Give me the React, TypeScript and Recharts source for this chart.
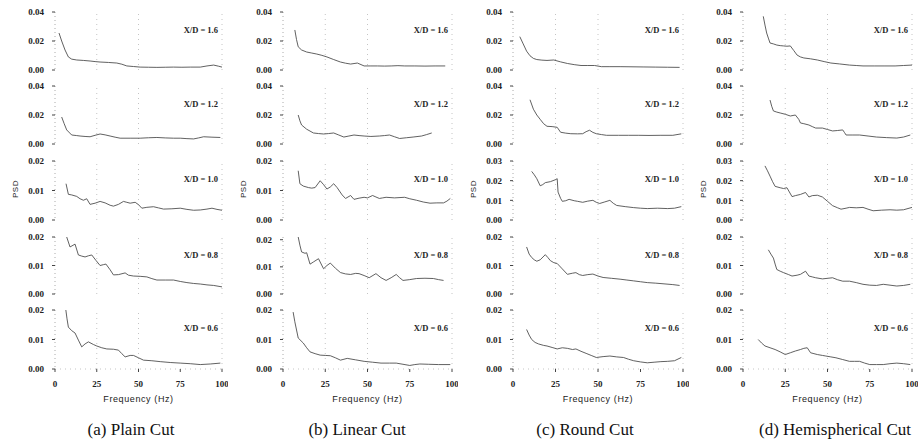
import React from 'react';
import { LineChart, Line, XAxis, YAxis, ReferenceLine } from 'recharts';

type Pt = [number, number];

// (a) Plain cut  [frequency Hz, PSD]
const plain16: Pt[] = [[2.4, 0.0255], [4, 0.02], [6, 0.0138], [8, 0.009], [10, 0.0075], [13, 0.0069], [17, 0.0066], [21, 0.0062], [24, 0.0058], [27, 0.0055], [32, 0.0052], [37, 0.0048], [40, 0.004], [43, 0.0028], [47, 0.0024], [51, 0.002], [56, 0.0019], [61, 0.0018], [66, 0.0019], [71, 0.002], [76, 0.0019], [81, 0.002], [87, 0.002], [91, 0.0028], [95, 0.0034], [98, 0.0026], [100, 0.002]];
const plain12: Pt[] = [[4, 0.0186], [5.5, 0.014], [7, 0.0097], [10, 0.0062], [13, 0.0058], [15, 0.0055], [18, 0.0052], [21, 0.005], [24, 0.006], [27, 0.0069], [30, 0.0063], [33, 0.0055], [36, 0.0047], [39, 0.004], [45, 0.004], [51, 0.004], [56, 0.0043], [61, 0.0045], [66, 0.0042], [71, 0.004], [75, 0.004], [79, 0.0037], [83, 0.0035], [86, 0.0042], [89, 0.005], [94, 0.0047], [99, 0.0045]];
const plain10: Pt[] = [[6.6, 0.0123], [8, 0.0087], [10, 0.0085], [13, 0.008], [15, 0.0072], [17, 0.0067], [19, 0.0072], [21, 0.0053], [24, 0.0057], [27, 0.0063], [30, 0.0058], [33, 0.005], [35, 0.0047], [38, 0.0053], [41, 0.0063], [43, 0.006], [45, 0.0057], [48, 0.006], [50, 0.0052], [52, 0.004], [55, 0.0043], [59, 0.0045], [62, 0.0041], [65, 0.0037], [70, 0.0038], [75, 0.004], [79, 0.0036], [83, 0.0033], [87, 0.0034], [91, 0.0037], [94, 0.004], [97, 0.0036], [100, 0.0033]];
const plain08: Pt[] = [[7, 0.02], [9, 0.0165], [12, 0.0175], [14, 0.0137], [16, 0.0133], [18, 0.013], [20, 0.0134], [22, 0.0137], [24.5, 0.0118], [27, 0.01], [29, 0.0103], [30.5, 0.0105], [33, 0.0085], [35, 0.0067], [38, 0.0068], [42, 0.0074], [44, 0.0066], [47, 0.0063], [51, 0.0062], [55, 0.006], [58, 0.0054], [61, 0.0049], [66, 0.0049], [71, 0.0049], [75, 0.0044], [79, 0.004], [83, 0.0037], [87, 0.0035], [91, 0.0032], [95, 0.003], [100, 0.0025]];
const plain06: Pt[] = [[6.5, 0.02], [7.2, 0.017], [8, 0.0142], [10, 0.013], [12, 0.0122], [14, 0.0098], [16, 0.0075], [18, 0.0085], [20, 0.0092], [23, 0.0083], [25, 0.0078], [28, 0.0072], [31, 0.0068], [35, 0.0067], [38, 0.0064], [40, 0.0052], [42, 0.0041], [45, 0.0046], [47, 0.0046], [50, 0.0038], [53, 0.003], [58, 0.0028], [63, 0.0025], [69, 0.0022], [75, 0.002], [81, 0.0018], [87, 0.0015], [93, 0.0017], [99, 0.002]];

// (b) Linear cut
const linear16: Pt[] = [[7, 0.0276], [8, 0.021], [9, 0.016], [11, 0.0138], [14, 0.0124], [17, 0.0117], [20, 0.011], [23, 0.0101], [26, 0.009], [30, 0.0072], [34, 0.0055], [37, 0.0047], [40, 0.0041], [44, 0.0048], [48, 0.0028], [52, 0.0028], [56, 0.0028], [60, 0.0027], [64, 0.0028], [68, 0.003], [72, 0.0028], [78, 0.0028], [84, 0.0027], [90, 0.0028], [96, 0.0028]];
const linear12: Pt[] = [[9, 0.02], [10, 0.016], [11, 0.0131], [14, 0.0102], [18, 0.0076], [21, 0.0072], [24, 0.0069], [27, 0.0072], [30, 0.0076], [33, 0.0062], [36, 0.0048], [39, 0.0055], [42, 0.0062], [45, 0.0058], [48, 0.0055], [52, 0.0052], [57, 0.0055], [60, 0.0058], [63, 0.0062], [66, 0.005], [69, 0.0038], [73, 0.0043], [77, 0.0048], [82, 0.0055], [85, 0.0065], [88, 0.0076]];
const linear10: Pt[] = [[9, 0.0167], [10, 0.0123], [12, 0.0115], [15, 0.011], [17, 0.0108], [19, 0.011], [22, 0.0133], [24, 0.012], [26, 0.0105], [28, 0.0112], [30, 0.0123], [32, 0.011], [35, 0.0085], [37, 0.0073], [40, 0.0083], [42, 0.007], [45, 0.0074], [48, 0.0077], [50, 0.0075], [53, 0.0083], [55, 0.0078], [57, 0.0073], [59, 0.0075], [61, 0.0077], [66, 0.0075], [72, 0.0077], [75, 0.0072], [79, 0.0067], [83, 0.0061], [87, 0.0057], [91, 0.0058], [95, 0.0058], [97, 0.0064], [99, 0.0073]];
const linear08: Pt[] = [[9, 0.021], [10, 0.018], [11, 0.0155], [13, 0.015], [14, 0.0152], [16, 0.011], [18, 0.0118], [21, 0.013], [24, 0.0093], [26, 0.0105], [28, 0.0114], [31, 0.0095], [34, 0.0079], [37, 0.0074], [40, 0.0072], [43, 0.0076], [45, 0.0075], [48, 0.0068], [51, 0.006], [55, 0.0075], [58, 0.006], [61, 0.005], [64, 0.006], [67, 0.0072], [69, 0.006], [71, 0.005], [75, 0.0053], [79, 0.0057], [84, 0.0058], [89, 0.0057], [92, 0.0053], [95, 0.005]];
const linear06: Pt[] = [[6, 0.0193], [7, 0.016], [9, 0.0105], [12, 0.0088], [14, 0.0072], [16, 0.0058], [19, 0.0052], [22, 0.0047], [25, 0.0046], [28, 0.0045], [31, 0.0038], [34, 0.003], [38, 0.0036], [43, 0.0031], [48, 0.0026], [53, 0.0023], [58, 0.002], [63, 0.002], [67, 0.002], [71, 0.0016], [75, 0.0012], [78, 0.0015], [81, 0.0017], [86, 0.0016], [92, 0.0015], [99, 0.0015]];

// (c) Round cut
const round16: Pt[] = [[4, 0.023], [6, 0.018], [8, 0.013], [10, 0.0098], [12, 0.008], [14, 0.0072], [17, 0.0068], [20, 0.0066], [24, 0.0069], [28, 0.0056], [32, 0.0045], [36, 0.0037], [40, 0.0031], [44, 0.0031], [48, 0.0031], [52, 0.0023], [57, 0.0023], [63, 0.0023], [70, 0.0022], [77, 0.0021], [84, 0.002], [91, 0.0019], [98, 0.0018]];
const round12: Pt[] = [[10, 0.0305], [12, 0.024], [14, 0.02], [16, 0.017], [18, 0.014], [20, 0.0122], [23, 0.012], [26, 0.0115], [28, 0.0081], [31, 0.0075], [34, 0.0071], [38, 0.007], [41, 0.0071], [43, 0.0085], [45, 0.0095], [47, 0.008], [49, 0.0071], [52, 0.0065], [55, 0.006], [62, 0.006], [68, 0.006], [74, 0.006], [80, 0.0059], [87, 0.006], [94, 0.006], [99, 0.007]];
const round10: Pt[] = [[11, 0.0247], [12.5, 0.023], [14, 0.021], [16, 0.0174], [17.5, 0.018], [19, 0.019], [22, 0.0195], [25, 0.0205], [26, 0.021], [26.5, 0.0142], [28, 0.011], [29, 0.0095], [31, 0.0098], [33, 0.0105], [36, 0.0098], [38, 0.0095], [41, 0.009], [44, 0.0096], [47, 0.01], [49, 0.009], [51, 0.0084], [54, 0.0092], [57, 0.01], [59, 0.0085], [61, 0.0074], [66, 0.0068], [71, 0.0063], [75, 0.006], [79, 0.0058], [85, 0.006], [91, 0.0058], [95, 0.006], [99, 0.0068]];
const round08: Pt[] = [[8, 0.0165], [9.5, 0.014], [11, 0.0128], [12.5, 0.012], [14, 0.0115], [16, 0.012], [19, 0.0138], [20.5, 0.0128], [22, 0.0117], [24, 0.011], [26, 0.0107], [29, 0.0088], [32, 0.0069], [35, 0.0073], [37, 0.0075], [39, 0.0068], [41, 0.0065], [44, 0.0068], [47, 0.007], [50, 0.0063], [53, 0.0058], [58, 0.0055], [63, 0.0052], [67, 0.0049], [71, 0.0046], [75, 0.0043], [79, 0.004], [84, 0.0038], [90, 0.0035], [94, 0.0033], [98, 0.003]];
const round06: Pt[] = [[8, 0.0134], [9.5, 0.0115], [11, 0.01], [13, 0.009], [15, 0.0085], [18, 0.008], [20, 0.0078], [23, 0.0073], [26, 0.0068], [29, 0.0072], [32, 0.007], [35, 0.0066], [37, 0.0068], [40, 0.006], [43, 0.0053], [46, 0.0046], [49, 0.0039], [53, 0.0042], [57, 0.0044], [61, 0.0041], [65, 0.0039], [68, 0.0033], [71, 0.0028], [75, 0.0024], [79, 0.0021], [83, 0.0023], [87, 0.0025], [91, 0.0026], [95, 0.0028], [99, 0.0039]];

// (d) Hemispherical cut
const hemi16: Pt[] = [[12, 0.037], [13, 0.031], [14, 0.0255], [15, 0.022], [16, 0.0186], [18, 0.018], [20, 0.0172], [22, 0.0168], [24, 0.0166], [26, 0.0164], [28, 0.0166], [30, 0.0135], [32, 0.0103], [34, 0.009], [36, 0.0083], [40, 0.0077], [44, 0.0069], [48, 0.0058], [52, 0.0048], [57, 0.0042], [63, 0.0034], [67, 0.0031], [71, 0.0028], [78, 0.0028], [84, 0.0028], [90, 0.0028], [95, 0.0031], [100, 0.0034]];
const hemi12: Pt[] = [[16, 0.0303], [17, 0.026], [18, 0.0228], [20, 0.022], [22, 0.0214], [25, 0.0205], [28, 0.0193], [31, 0.02], [33, 0.017], [34, 0.0145], [36, 0.014], [39, 0.0131], [41, 0.012], [43, 0.011], [47, 0.011], [50, 0.01], [53, 0.009], [56, 0.0093], [59, 0.0097], [60, 0.008], [61, 0.0062], [65, 0.0062], [69, 0.0062], [74, 0.0055], [79, 0.0048], [85, 0.0044], [91, 0.0041], [95, 0.0048], [99, 0.0062]];
const hemi10: Pt[] = [[13, 0.0275], [14.5, 0.025], [16, 0.0223], [17.5, 0.0195], [19, 0.0171], [22, 0.0164], [24, 0.016], [26, 0.0164], [29, 0.0119], [31, 0.0124], [34, 0.013], [37, 0.014], [39, 0.0117], [41, 0.0124], [44, 0.0126], [47, 0.0117], [50, 0.0095], [53, 0.0073], [56, 0.0062], [58, 0.0055], [61, 0.006], [63, 0.0064], [67, 0.0062], [71, 0.0064], [74, 0.0055], [77, 0.0047], [82, 0.005], [87, 0.0052], [91, 0.005], [95, 0.0052], [100, 0.0064]];
const hemi08: Pt[] = [[15, 0.0155], [16.5, 0.014], [18, 0.0126], [19, 0.0105], [20, 0.0086], [22, 0.008], [24, 0.0075], [27, 0.0068], [29, 0.0063], [32, 0.0066], [34, 0.0069], [37, 0.008], [39, 0.0063], [41, 0.006], [43, 0.0057], [47, 0.0053], [50, 0.0055], [53, 0.0057], [56, 0.005], [59, 0.0045], [63, 0.0045], [67, 0.004], [71, 0.0034], [75, 0.0031], [79, 0.003], [83, 0.0034], [87, 0.0031], [91, 0.0028], [95, 0.003], [99, 0.0034]];
const hemi06: Pt[] = [[9, 0.01], [11, 0.0088], [13, 0.0078], [16, 0.0072], [19, 0.0066], [22, 0.0058], [25, 0.0049], [28, 0.0055], [31, 0.0061], [34, 0.0066], [36, 0.007], [38, 0.0072], [40, 0.0055], [42, 0.0052], [44, 0.0049], [47, 0.0046], [49, 0.0044], [52, 0.0041], [55, 0.0038], [59, 0.0032], [63, 0.0026], [66, 0.0026], [69, 0.0026], [72, 0.002], [75, 0.0015], [79, 0.0015], [83, 0.0015], [87, 0.0018], [91, 0.002], [95, 0.0018], [99, 0.0015]];

const captions = ['(a) Plain Cut', '(b) Linear Cut', '(c) Round Cut', '(d) Hemispherical Cut'];
const stations = ['1.6', '1.2', '1.0', '0.8', '0.6'];
const freqTicks = [0, 25, 50, 75, 100];
const ticks04 = [0, 0.02, 0.04];
const ticks02 = [0, 0.01, 0.02];
const ticks03 = [0, 0.01, 0.02, 0.03];

const seriesByCol: Pt[][][] = [
  [plain16, plain12, plain10, plain08, plain06],
  [linear16, linear12, linear10, linear08, linear06],
  [round16, round12, round10, round08, round06],
  [hemi16, hemi12, hemi10, hemi08, hemi06],
];
const ticksByCol = [
  [ticks04, ticks04, ticks02, ticks02, ticks02],
  [ticks04, ticks04, ticks02, ticks02, ticks02],
  [ticks04, ticks04, ticks03, ticks02, ticks02],
  [ticks04, ticks04, ticks03, ticks02, ticks02],
];

// page geometry (px)
const colLeft = [55, 283, 513, 743];
const colRight = [222, 452, 683, 912];
const rowTop = [12, 86, 161, 237, 310];
const rowBottom = [70, 144, 220, 294, 369];
const captionX = [131, 357, 585, 835];

const tickFont = { fontFamily: 'Liberation Serif', fontWeight: 700, fontSize: 9, fill: '#222' };
const faint = '#c4c4c4';

interface PanelProps {
  data: Pt[];
  ticks: number[];
  x0: number;
  x1: number;
  top: number;
  bottom: number;
  showX: boolean;
}

function Panel({ data, ticks, x0, x1, top, bottom, showX }: PanelProps) {
  const YW = 50, MR = 6, MT = 6, XH = 26;
  const w = x1 - x0 + YW + MR;
  const h = bottom - top + MT + (showX ? XH : 6);
  const rows = data.map(([f, p]) => ({ f, p }));
  return (
    <div style={{ position: 'absolute', left: x0 - YW, top: top - MT }}>
      <LineChart width={w} height={h} data={rows} margin={{ top: MT, right: MR, bottom: showX ? 0 : 6, left: 0 }}>
        <XAxis
          type="number"
          dataKey="f"
          domain={[0, 100]}
          ticks={freqTicks}
          interval={0}
          hide={!showX}
          height={XH}
          axisLine={{ stroke: faint, strokeDasharray: '1 4' }}
          tickLine={{ stroke: '#444' }}
          tickSize={3}
          tickMargin={9}
          tick={tickFont}
        />
        <YAxis
          type="number"
          domain={[0, ticks[ticks.length - 1]]}
          ticks={ticks}
          interval={0}
          width={YW}
          axisLine={{ stroke: '#aaa', strokeDasharray: '1 3' }}
          tickLine={{ stroke: '#444' }}
          tickSize={3}
          tickMargin={8}
          tick={tickFont}
          tickFormatter={(v: number) => v.toFixed(2)}
        />
        <ReferenceLine x={25} stroke={faint} strokeDasharray="1 4" />
        <ReferenceLine x={50} stroke={faint} strokeDasharray="1 4" />
        <ReferenceLine x={100} stroke={faint} strokeDasharray="1 4" />
        <Line type="linear" dataKey="p" stroke="#444" strokeWidth={0.85} dot={false} isAnimationActive={false} />
      </LineChart>
    </div>
  );
}

export default function App() {
  return (
    <div style={{ position: 'absolute', left: 0, top: 0, width: 920, height: 443, background: '#fff', overflow: 'hidden' }}>
      {seriesByCol.map((col, c) => (
        <React.Fragment key={c}>
          {col.map((data, r) => (
            <Panel
              key={r}
              data={data}
              ticks={ticksByCol[c][r]}
              x0={colLeft[c]}
              x1={colRight[c]}
              top={rowTop[r]}
              bottom={rowBottom[r]}
              showX={r === 4}
            />
          ))}
          {stations.map((s, r) => (
            <div
              key={'xd' + r}
              style={{
                position: 'absolute',
                right: 920 - (colRight[c] - 4),
                top: rowTop[r] + 18,
                transform: 'translateY(-50%)',
                fontFamily: 'Liberation Serif',
                fontWeight: 700,
                fontSize: 8.5,
                color: '#222',
                whiteSpace: 'nowrap',
              }}
            >
              {`X/D = ${s}`}
            </div>
          ))}
          <div
            style={{
              position: 'absolute',
              left: colLeft[c] - 40,
              top: 189,
              transform: 'translate(-50%, -50%) rotate(-90deg)',
              fontFamily: 'Liberation Sans',
              fontSize: 8,
              letterSpacing: 0.5,
              color: '#222',
            }}
          >
            PSD
          </div>
          <div
            style={{
              position: 'absolute',
              left: (colLeft[c] + colRight[c]) / 2,
              top: 399,
              transform: 'translate(-50%, -50%)',
              fontFamily: 'Liberation Sans',
              fontSize: 9,
              letterSpacing: 0.6,
              color: '#222',
              whiteSpace: 'nowrap',
            }}
          >
            Frequency (Hz)
          </div>
          <div
            style={{
              position: 'absolute',
              left: captionX[c],
              top: 430,
              transform: 'translate(-50%, -50%)',
              fontFamily: 'Liberation Serif',
              fontSize: 17,
              color: '#111',
              whiteSpace: 'nowrap',
            }}
          >
            {captions[c]}
          </div>
        </React.Fragment>
      ))}
    </div>
  );
}
